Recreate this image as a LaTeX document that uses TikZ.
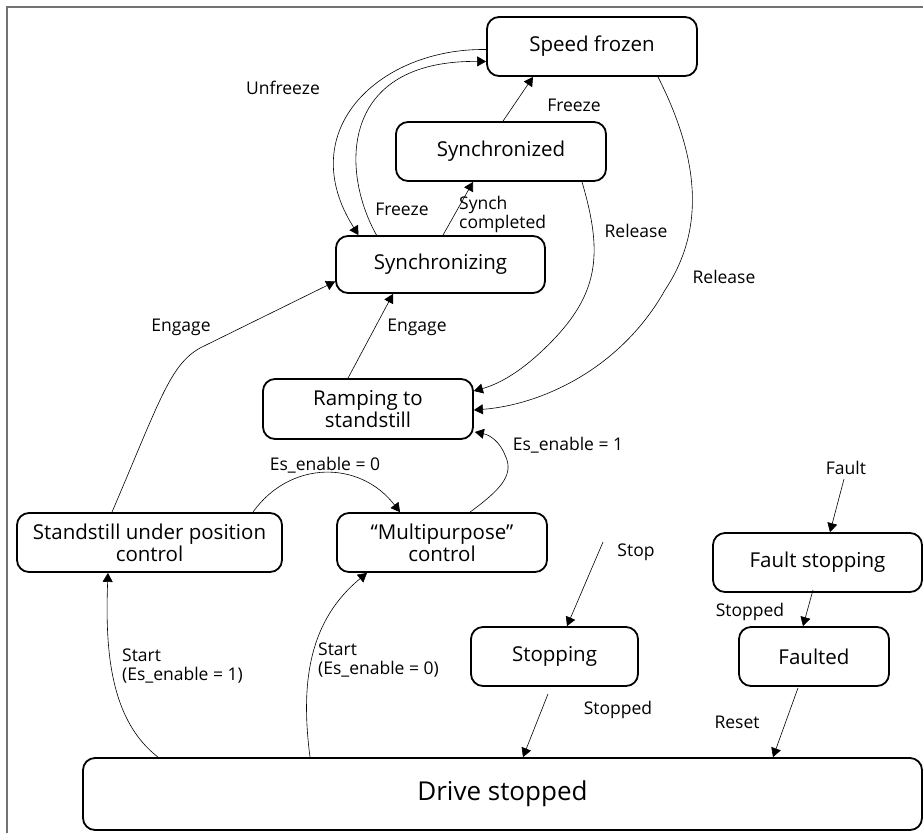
\documentclass[tikz,border=0pt]{standalone}
\usepackage{fontspec}
\setmainfont{Open Sans}
\usetikzlibrary{arrows.meta,calc}
\tikzset{
  state/.style={draw, line width=1.8pt, rounded corners=12pt, rectangle, inner sep=0pt,
    align=center, font=\fontsize{20.5}{22}\selectfont},
  lbl/.style={font=\fontsize{17.5}{19}\selectfont, inner sep=0pt},
  conn/.style={line width=0.6pt, -{Triangle[length=9pt,width=10pt]}},
}
\begin{document}
\begin{tikzpicture}[x=1pt,y=-1pt]
\useasboundingbox (0,0) rectangle (923,833);
\draw[line width=1.4pt, color=black!55] (7,833) -- (7,7) -- (923,7);

% states
\node[state, minimum width=210pt, minimum height=59pt] (sf) at (592,46.5) {Speed frozen};
\node[state, minimum width=210pt, minimum height=59pt] (syn) at (501,151.5) {Synchronized};
\node[state, minimum width=209pt, minimum height=57pt] (sing) at (440.5,264.5) {Synchronizing};
\node[state, minimum width=210pt, minimum height=60pt] (ramp) at (368,409) {Ramping to\\standstill};
\node[state, minimum width=265pt, minimum height=59pt] (stand) at (149.5,542.5) {Standstill under position\\control};
\node[state, minimum width=210pt, minimum height=59pt] (multi) at (442,542.5) {“Multipurpose”\\control};
\node[state, minimum width=167pt, minimum height=59pt] (stopping) at (554.5,656.5) {Stopping};
\node[state, minimum width=209pt, minimum height=59pt] (fstop) at (817.5,562.5) {Fault stopping};
\node[state, minimum width=150pt, minimum height=59pt] (faulted) at (814,656.5) {Faulted};
\node[state, minimum width=839pt, minimum height=72pt, font=\fontsize{26}{28}\selectfont] (drive) at (502.5,794) {Drive stopped};

\coordinate (stopsrc) at (603,542);
\coordinate (faultsrc) at (844,479);

% connectors
\draw[conn] ($(sf.west)+(0,3)$) .. controls (380,48) and (292,130) .. ($(sing.north)+(-82,0)$);
\draw[conn] ($(sing.north)+(-64,0)$) .. controls (340,170) and (340,60) .. ($(sf.west)+(0,15)$);
\draw[conn] ($(syn.north)+(2,0)$) -- ($(sf.south)+(-59,0)$);
\draw[conn] ($(sing.north)+(2.5,0)$) -- ($(syn.south)+(-28,0)$);
\draw[conn] ($(syn.south)+(81,0)$) .. controls (602,250) and (600,290) .. (555,338)
   .. controls (520,375) and (495,385) .. ($(ramp.east)+(0,-18)$);
\draw[conn] ($(sf.south)+(66,0)$) .. controls (700,160) and (705,230) .. (665,290)
   .. controls (620,370) and (540,405) .. ($(ramp.east)+(0,1)$);
\draw[conn] ($(stand.north)+(-37.5,0)$) .. controls (160,400) and (170,365) .. (200,348) -- ($(sing.west)+(0,17)$);
\draw[conn] ($(ramp.north)+(-20,0)$) -- ($(sing.south)+(-47.5,0)$);
\draw[conn] ($(stand.north)+(103.5,0)$) .. controls (290,460) and (360,460) .. ($(multi.north)+(-42,0)$);
\draw[conn] ($(multi.north)+(28,0)$) .. controls (500,490) and (515,475) .. (505,455)
   .. controls (500,442) and (490,435) .. ($(ramp.east)+(1,23)$);
\draw[conn] ($(drive.north)+(-344.5,0)$) .. controls (110,720) and (105,650) .. ($(stand.south)+(-41.5,0)$);
\draw[conn] ($(drive.north)+(-192.5,0)$) .. controls (300,680) and (310,620) .. ($(multi.south)+(-75,0)$);
\draw[conn] (stopsrc) -- ($(stopping.north)+(12.5,0)$);
\draw[conn] ($(stopping.south)+(-6.5,7)$) -- ($(drive.north)+(20.5,0)$);
\draw[conn] (faultsrc) -- ($(fstop.north)+(12.5,0)$);
\draw[conn] ($(fstop.south)+(-4.5,-3)$) -- ($(faulted.north)+(-11,0)$);
\draw[conn] ($(faulted.south)+(-16,1)$) -- ($(drive.north)+(270.5,0)$);

% labels
\node[lbl] (lunf) at (283,88) {Unfreeze};
\node[lbl] (lfr1) at (574,105) {Freeze};
\node[lbl] (lfr2) at (402,209) {Freeze};
\node[lbl, anchor=west, align=left] (lsyn) at (459,214) {Synch\\completed};
\node[lbl] (lrel1) at (636,231) {Release};
\node[lbl] (lrel2) at (724,277) {Release};
\node[lbl] (leng1) at (181,327) {Engage};
\node[lbl] (leng2) at (417,327) {Engage};
\node[lbl] (les1) at (568,445) {Es\_enable = 1};
\node[lbl] (les0) at (325,465) {Es\_enable = 0};
\node[lbl, anchor=west, align=left] (lst1) at (122,666) {Start\\(Es\_enable = 1)};
\node[lbl, anchor=west, align=left] (lst0) at (318,660) {Start\\(Es\_enable = 0)};
\node[lbl] (lstop) at (636,552) {Stop};
\node[lbl] (lfault) at (846,468) {Fault};
\node[lbl] (lstpd1) at (750,612) {Stopped};
\node[lbl] (lstpd2) at (618,710) {Stopped};
\node[lbl] (lreset) at (737,722) {Reset};
\end{tikzpicture}
\end{document}
